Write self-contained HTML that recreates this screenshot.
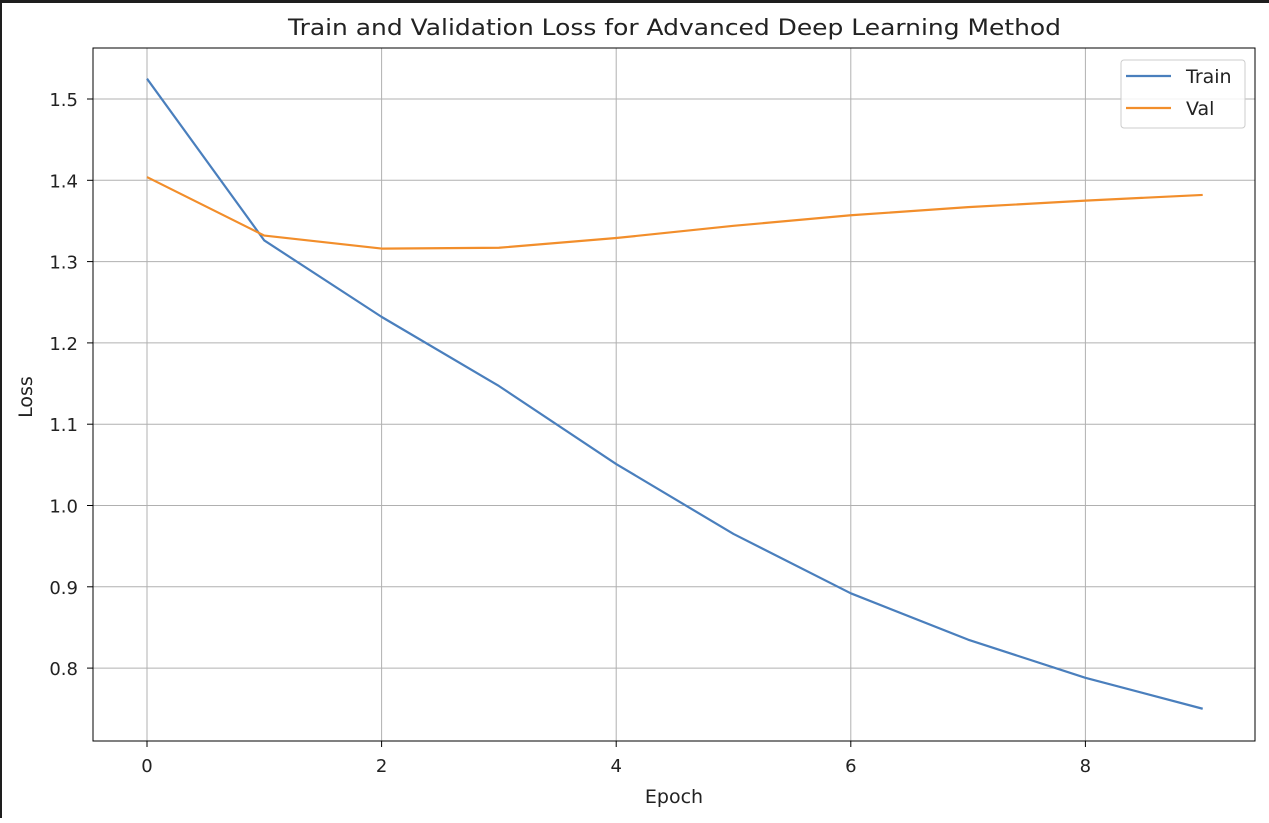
<!DOCTYPE html>
<html><head><meta charset="utf-8"><style>
html,body{margin:0;padding:0;background:#fff;}
body{width:1269px;height:818px;overflow:hidden;font-family:"Liberation Sans","DejaVu Sans",sans-serif;}
</style></head><body>
<svg id="chart" width="1269" height="818" xmlns="http://www.w3.org/2000/svg" font-family="'DejaVu Sans','Liberation Sans',sans-serif">
<rect x="0" y="0" width="1269" height="818" fill="#fff"/>
<rect x="0" y="0" width="1269" height="3" fill="#1e1e1e"/>
<rect x="0" y="0" width="2" height="818" fill="#1e1e1e"/>
<g id="grid"></g><g id="series"></g><g id="axes"></g>
</svg>
<script>
const epochs=[0,1,2,3,4,5,6,7,8,9];
const trainLoss=[1.525,1.326,1.232,1.147,1.051,0.965,0.892,0.835,0.788,0.750];
const valLoss=[1.404,1.332,1.316,1.317,1.329,1.344,1.357,1.367,1.375,1.382];
const xTicks=[0,2,4,6,8];
const yTicks=[0.8,0.9,1.0,1.1,1.2,1.3,1.4,1.5];
const L=93,R=1255,T=48,B=741;
const xs=v=>147+v*117.3;
const ys=v=>99+(1.5-v)*813;
const NS='http://www.w3.org/2000/svg';
function mk(tag,attrs,parent,text){const e=document.createElementNS(NS,tag);for(const k in attrs)e.setAttribute(k,attrs[k]);if(text!==undefined)e.textContent=text;parent.appendChild(e);return e;}
const grid=document.getElementById('grid'),ax=document.getElementById('axes'),ser=document.getElementById('series');
xTicks.forEach(t=>{const x=xs(t);
 const g=mk('line',{x1:x,x2:x,y1:T,y2:B,stroke:'#b0b0b0','stroke-width':1},grid);
 
 
 mk('line',{x1:x,x2:x,y1:B,y2:B+6,stroke:'#000','stroke-width':1},ax);
 const l=mk('text',{x:x,y:B+31,'text-anchor':'middle','font-size':18,fill:'#222'},ax,String(t));
 
 
});
yTicks.forEach(t=>{const y=ys(t);
 const g=mk('line',{x1:L,x2:R,y1:y,y2:y,stroke:'#b0b0b0','stroke-width':1},grid);
 
 
 mk('line',{x1:L-6,x2:L,y1:y,y2:y,stroke:'#000','stroke-width':1},ax);
 const l=mk('text',{x:L-15,y:y+7,'text-anchor':'end','font-size':18,fill:'#222'},ax,t.toFixed(1));
 
 
});
function line(vals,color,name){const p=mk('polyline',{points:vals.map((v,i)=>xs(epochs[i])+','+ys(v)).join(' '),fill:'none',stroke:color,'stroke-width':2.2,'stroke-linejoin':'round'},ser);
 
 }
line(trainLoss,'#4a7fbd','train-line');
line(valLoss,'#f28e2b','val-line');
const fr=mk('rect',{x:L,y:T,width:R-L,height:B-T,fill:'none',stroke:'#000','stroke-width':1},ax);


const ti=mk('text',{x:288,y:35,'font-size':22,fill:'#222',textLength:773,lengthAdjust:'spacingAndGlyphs'},ax,'Train and Validation Loss for Advanced Deep Learning Method');


const xl=mk('text',{x:674,y:803,'text-anchor':'middle','font-size':19,fill:'#222'},ax,'Epoch');


const yl=mk('text',{x:32,y:397,'text-anchor':'middle','font-size':19,fill:'#222',transform:'rotate(-90 32 397)'},ax,'Loss');


const lg=mk('g',{},ax);


mk('rect',{x:1121,y:60,width:124,height:68,rx:3,fill:'#fff','fill-opacity':0.85,stroke:'#ccc'},lg);
[['Train','#4a7fbd',76],['Val','#f28e2b',108]].forEach(([n,c,y])=>{
 const e=mk('g',{},lg);
 
 
 mk('line',{x1:1126,x2:1171,y1:y,y2:y,stroke:c,'stroke-width':2.2},e);
 mk('text',{x:1186,y:y+7,'font-size':19,fill:'#222'},e,n);
});
</script>
</body></html>
